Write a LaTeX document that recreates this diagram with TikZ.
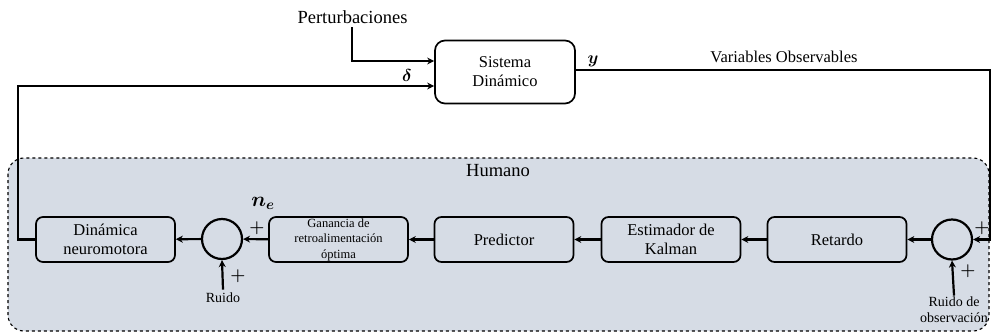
\documentclass[tikz,border=0pt]{standalone}
\usepackage{fontspec}
\setmainfont{Liberation Serif}
\usepackage{bm}
\usetikzlibrary{arrows.meta}
\definecolor{humanfill}{HTML}{D6DCE5}
\begin{document}
\begin{tikzpicture}[x=1pt,y=-1pt,
  block/.style={draw,line width=1.7pt,rounded corners=7pt,minimum width=139pt,
    minimum height=45pt,align=center,inner sep=1pt,
    font=\fontsize{16.5}{19}\selectfont},
  sumnode/.style={draw,circle,line width=2.2pt,minimum size=40pt,inner sep=0pt},
  flow/.style={line width=2.2pt,-{Stealth[length=7pt,width=7pt]}},
  lbl/.style={font=\fontsize{16.5}{18}\selectfont},
  smalllbl/.style={font=\fontsize{14}{16}\selectfont,align=center},
  sign/.style={font=\fontsize{18}{18}\selectfont,inner sep=0pt},
  mathlbl/.style={font=\fontsize{19}{19}\selectfont,inner sep=0pt},
]
\useasboundingbox (0,0) rectangle (992,332);

% human operator region
\draw[dashed,line width=1.1pt,fill=humanfill,rounded corners=16pt]
  (8,158) rectangle (989,331);
\node[font=\fontsize{18.5}{19}\selectfont] (hum) at (498,171) {Humano};

% plant
\node[block,minimum width=140pt,minimum height=63pt,fill=white,rounded corners=10pt]
  (sys) at (505,72) {Sistema\\Dinámico};
\node[lbl,font=\fontsize{18.5}{19}\selectfont] (pertlbl) at (352.5,17) {Perturbaciones};
\node[lbl] (obslbl) at (784,57) {Variables Observables};
\node[mathlbl] (dlt) at (407,75) {$\bm{\delta}$};
\node[mathlbl] (ylbl) at (593,61) {$\bm{y}$};

% human control loop
\node[block] (neuro) at (105.5,239.5) {Dinámica\\neuromotora};
\node[sumnode] (s1) at (222,239) {};
\node[block,font=\fontsize{12.5}{15.5}\selectfont] (gain) at (338.5,239.5)
  {Ganancia de\\retroalimentación\\óptima};
\node[block] (pred) at (504,239.5) {Predictor};
\node[block] (kal) at (671,239.5) {Estimador de\\Kalman};
\node[block] (ret) at (837,239.5) {Retardo};
\node[sumnode] (s2) at (952,239.5) {};

\node[smalllbl] (ruido) at (223,298) {Ruido};
\node[smalllbl] (ruidoobs) at (954,310) {Ruido de\\observación};

\node[mathlbl,font=\fontsize{21}{21}\selectfont] (ne) at (263,203) {$\bm{n_e}$};
\node[sign] (p1) at (257,228) {$\bm{+}$};
\node[sign] (p2) at (238,276) {$\bm{+}$};
\node[sign] (p3) at (982,228) {$\bm{+}$};
\node[sign] (p4) at (968,271) {$\bm{+}$};

\coordinate (leftcorner) at (18,239.5);
\coordinate (rightcorner) at (990,239.5);

% connectors
\draw[flow] (pertlbl.south -| 352,0) |- (sys.west |- 0,61);
\draw[flow] (neuro.west) -- (leftcorner) |- (sys.west |- 0,86);
\draw[flow] (sys.east |- 0,70) -| (rightcorner) -- (s2.east);
\draw[flow] (s2) -- (ret);
\draw[flow] (ret) -- (kal);
\draw[flow] (kal) -- (pred);
\draw[flow] (pred) -- (gain);
\draw[flow] (gain) -- (s1);
\draw[flow] (s1) -- (neuro);
\draw[flow] (ruido.north) -- (s1.south);
\draw[flow] ([yshift=-2pt]ruidoobs.north) -- (s2.south);
\end{tikzpicture}
\end{document}
